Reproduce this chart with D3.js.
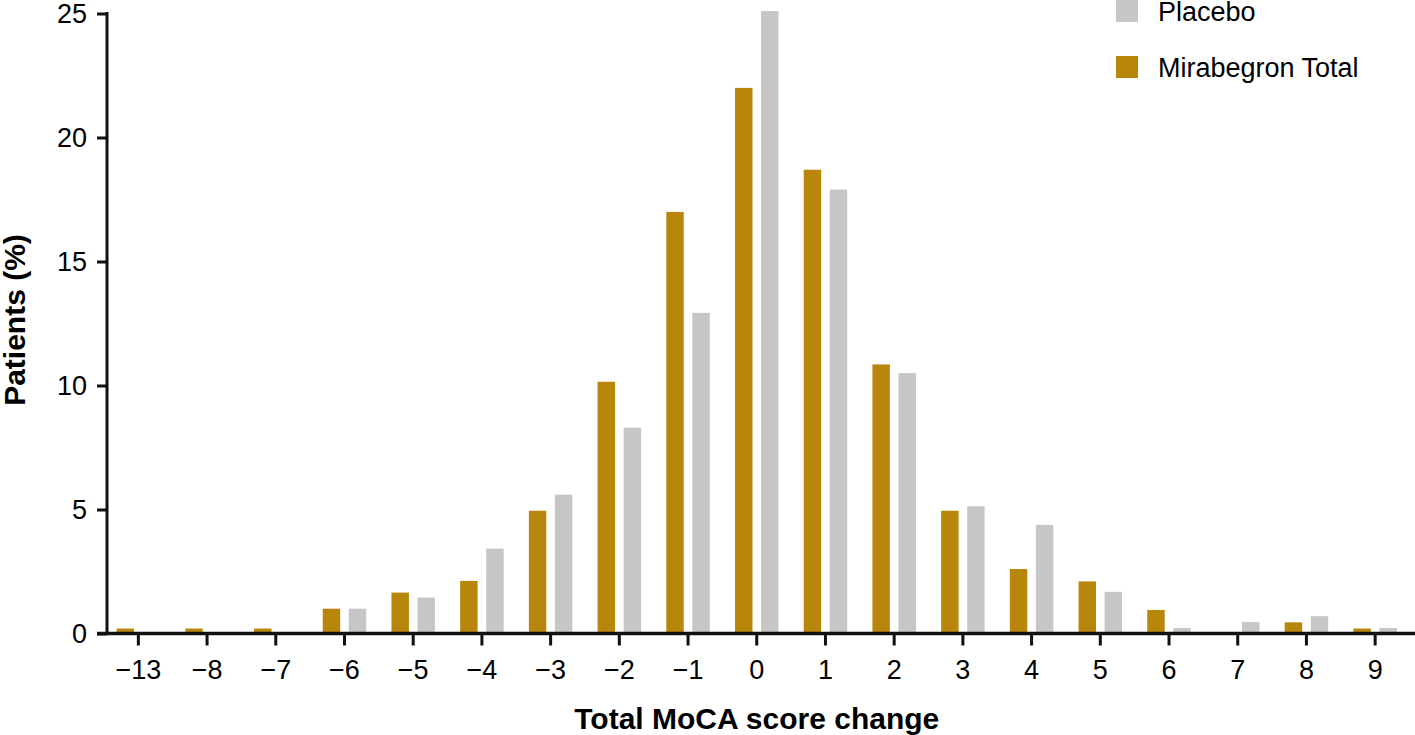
<!DOCTYPE html>
<html>
<head>
<meta charset="utf-8">
<script src="https://cdn.jsdelivr.net/npm/d3@7"></script>
<style>
  body { margin: 0; background: #fff; }
  svg text { font-family: "Liberation Sans", Arial, Helvetica, sans-serif; fill: #000; }
</style>
</head>
<body>
<svg id="chart" width="1415" height="735"></svg>
<script>
// score change categories
var categories = ["−13", "−8", "−7", "−6", "−5", "−4", "−3", "−2", "−1", "0", "1", "2", "3", "4", "5", "6", "7", "8", "9"];
// patients (%) per category
var mirabegron = [0.2, 0.2, 0.2, 1.0, 1.65, 2.12, 4.95, 10.15, 17.0, 22.0, 18.7, 10.85, 4.95, 2.6, 2.1, 0.95, 0, 0.45, 0.2];
var placebo    = [0, 0, 0, 1.0, 1.45, 3.42, 5.6, 8.3, 12.93, 25.1, 17.9, 10.5, 5.13, 4.38, 1.68, 0.22, 0.46, 0.7, 0.22];
var yTicks = [0, 5, 10, 15, 20, 25];
var seriesNames = ["Mirabegron Total", "Placebo"];
var colors = { "Mirabegron Total": "#b8860b", "Placebo": "#c6c6c6" };

var svg = d3.select("#chart");

var yAxisX = 107;
var x0 = d3.scaleBand()
  .domain(categories)
  .range([104, 1409.5])
  .paddingInner(0.367)
  .paddingOuter(0.1835);

var x1 = d3.scaleBand()
  .domain(seriesNames)
  .range([0, x0.bandwidth()])
  .paddingInner(0.33);

var y = d3.scaleLinear()
  .domain([0, 25])
  .range([633.5, 13.5]);

var rows = categories.map(function(c, i) {
  return { cat: c, values: [
    { name: "Mirabegron Total", v: mirabegron[i] },
    { name: "Placebo", v: placebo[i] }
  ]};
});

// bars
var groups = svg.append("g").selectAll("g")
  .data(rows)
  .enter().append("g")
  .attr("transform", function(d) { return "translate(" + x0(d.cat) + ",0)"; });

groups.selectAll("rect")
  .data(function(d) { return d.values.filter(function(e) { return e.v > 0; }); })
  .enter().append("rect")
  .attr("x", function(d) { return x1(d.name); })
  .attr("width", x1.bandwidth())
  .attr("y", function(d) { return y(d.v); })
  .attr("height", function(d) { return y(0) - y(d.v); })
  .attr("fill", function(d) { return colors[d.name]; });

// y axis
var yAxis = svg.append("g")
  .attr("transform", "translate(" + yAxisX + ",0)")
  .call(d3.axisLeft(y).tickValues(yTicks).tickSize(10).tickPadding(10).tickSizeOuter(0));
yAxis.select(".domain").remove();
yAxis.selectAll("line").attr("stroke", "#111").attr("stroke-width", 3);
yAxis.selectAll("text").attr("font-size", 27).style("font-family", "Liberation Sans, Arial, sans-serif");
yAxis.append("line")
  .attr("x1", 0).attr("x2", 0)
  .attr("y1", y(25) - 1.5).attr("y2", y(0))
  .attr("stroke", "#111").attr("stroke-width", 3);

// x axis
var xAxis = svg.append("g")
  .attr("transform", "translate(0," + y(0) + ")")
  .call(d3.axisBottom(x0).tickSize(12).tickPadding(14).tickSizeOuter(0));
xAxis.select(".domain").remove();
xAxis.selectAll("line").attr("stroke", "#111").attr("stroke-width", 3);
xAxis.selectAll("text").attr("font-size", 27).style("font-family", "Liberation Sans, Arial, sans-serif");
xAxis.append("line")
  .attr("x1", yAxisX - 10).attr("x2", 1415)
  .attr("y1", 0).attr("y2", 0)
  .attr("stroke", "#111").attr("stroke-width", 3.5);

// axis titles
svg.append("text")
  .attr("x", (x0.range()[0] + x0.range()[1]) / 2)
  .attr("y", 729)
  .attr("text-anchor", "middle")
  .attr("font-size", 30)
  .attr("font-weight", "bold")
  .text("Total MoCA score change");

svg.append("text")
  .attr("transform", "translate(25," + 320 + ") rotate(-90)")
  .attr("text-anchor", "middle")
  .attr("font-size", 30)
  .attr("font-weight", "bold")
  .text("Patients (%)");

// legend
var legendItems = ["Placebo", "Mirabegron Total"];
var legend = svg.append("g").attr("transform", "translate(1116,0)");
legendItems.forEach(function(name, i) {
  var g = legend.append("g").attr("transform", "translate(0," + (i * 56) + ")");
  g.append("rect")
    .attr("x", 0).attr("y", 0)
    .attr("width", 22).attr("height", 22)
    .attr("fill", colors[name]);
  g.append("text")
    .attr("x", 42).attr("y", 12)
    .attr("dy", "0.35em")
    .attr("font-size", 27)
    .text(name);
});
</script>
</body>
</html>
